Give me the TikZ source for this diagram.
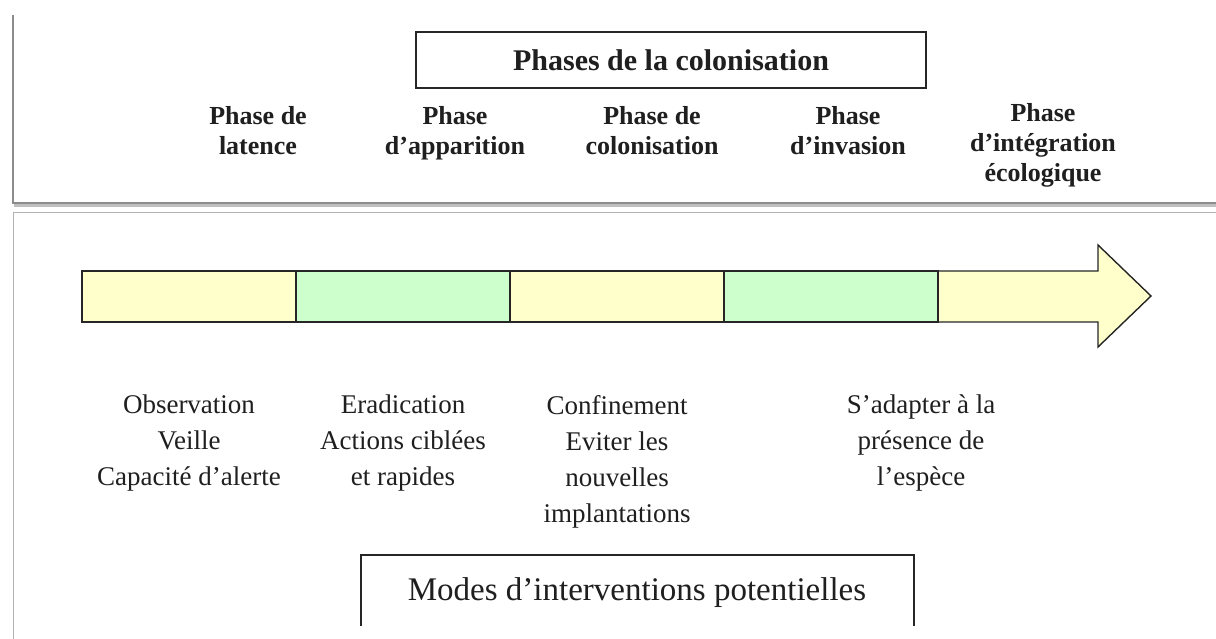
\documentclass[tikz,border=0pt]{standalone}
\usepackage{fontspec}
\setmainfont{Liberation Serif}
\begin{document}
\begin{tikzpicture}[x=1pt,y=-1pt,
  panelline/.style={draw=black!45, line width=1.2pt},
  shadowline/.style={draw=black!25, line width=2.5pt},
  seg/.style={draw=black!85, line width=1.4pt},
  phaselbl/.style={align=center, anchor=north, text=black!88, font=\fontsize{26}{30}\selectfont\bfseries, inner sep=0pt},
  modelbl/.style={align=center, anchor=north, text=black!88, font=\fontsize{27}{36}\selectfont, inner sep=0pt},
  titlebox/.style={draw=black!85, line width=1.3pt},
]
\definecolor{pyellow}{HTML}{FFFFCC}
\definecolor{pgreen}{HTML}{CCFFCC}
\useasboundingbox (0,0) rectangle (1216,639);
\fill[white] (0,0) rectangle (1216,639);

% panels
\coordinate (tpA) at (13,15);
\coordinate (tpB) at (13,203);
\coordinate (tpC) at (1216,203);
\draw[shadowline] (14,205.5) -- (1216,205.5);
\draw[panelline] (tpA) -- (tpB) -- (tpC);
\coordinate (bpA) at (1216,213);
\coordinate (bpB) at (13,213);
\coordinate (bpC) at (13,639);
\draw[draw=black!30, line width=1pt] (bpA) -- (bpB) -- (bpC);

% title box
\draw[titlebox] (416,32) rectangle (926,88);
\node[inner sep=0pt, text=black!88, font=\fontsize{30}{34}\selectfont\bfseries] (title) at (671,60) {Phases de la colonisation};

% phase labels
\node[phaselbl] (p1) at (258,106) {Phase de\\latence};
\node[phaselbl] (p2) at (455,106) {Phase\\d’apparition};
\node[phaselbl] (p3) at (652,106) {Phase de\\colonisation};
\node[phaselbl] (p4) at (848,106) {Phase\\d’invasion};
\node[phaselbl] (p5) at (1043,103) {Phase\\d’intégration\\écologique};

% bar
\draw[seg, fill=pyellow] (938,271) -- (1098,271) -- (1098,245) -- (1151,296) -- (1098,347) -- (1098,322) -- (938,322) -- cycle;
\draw[seg, fill=pyellow] (82,271) rectangle (296,322);
\draw[seg, fill=pgreen] (296,271) rectangle (510,322);
\draw[seg, fill=pyellow] (510,271) rectangle (724,322);
\draw[seg, fill=pgreen] (724,271) rectangle (938,322);

% modes
\node[modelbl] (m1) at (189,395) {Observation\\Veille\\Capacité d’alerte};
\node[modelbl] (m2) at (403,395) {Eradication\\Actions ciblées\\et rapides};
\node[modelbl] (m3) at (617,395) {Confinement\\Eviter les\\nouvelles\\implantations};
\node[modelbl] (m4) at (921,395) {S’adapter à la\\présence de\\l’espèce};

% bottom box (open at bottom)
\draw[titlebox] (361,626) -- (361,555) -- (914,555) -- (914,626);
\node[inner sep=0pt, text=black!88, font=\fontsize{33}{38}\selectfont] (modes) at (637,593) {Modes d’interventions potentielles};
\end{tikzpicture}
\end{document}
